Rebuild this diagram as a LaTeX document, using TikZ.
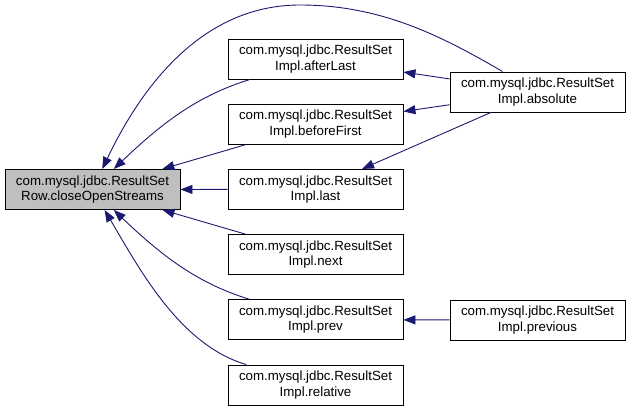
\documentclass[tikz,border=0pt]{standalone}
\usepackage{fontspec}
\setmainfont{Liberation Sans}
\usetikzlibrary{positioning,arrows.meta}
\definecolor{edgeblue}{HTML}{191970}
\definecolor{boxgray}{HTML}{BFBFBF}
\begin{document}
\begin{tikzpicture}[x=1pt, y=-1pt, node distance=65.2pt, >={Triangle[length=12pt,width=9pt]}]
  \tikzstyle{funcbox} = [rectangle, draw=black, line width=0.9pt, align=center, minimum width=175pt, minimum height=40pt, inner sep=0pt, font=\fontsize{13.3}{15.5}\selectfont]
  \tikzstyle{call} = [edgeblue, line width=0.9pt]

  \useasboundingbox (0,0) rectangle (631,411);

  \node[funcbox, fill=boxgray] (close) at (92.5,189.5) {com.mysql.jdbc.ResultSet\\Row.closeOpenStreams};

  \node[funcbox] (afterLast) at (315.5,59) {com.mysql.jdbc.ResultSet\\Impl.afterLast};
  \node[funcbox, below of=afterLast] (beforeFirst) {com.mysql.jdbc.ResultSet\\Impl.beforeFirst};
  \node[funcbox, below of=beforeFirst] (last) {com.mysql.jdbc.ResultSet\\Impl.last};
  \node[funcbox, below of=last] (next) {com.mysql.jdbc.ResultSet\\Impl.next};
  \node[funcbox, below of=next] (prev) {com.mysql.jdbc.ResultSet\\Impl.prev};
  \node[funcbox, below of=prev] (relative) {com.mysql.jdbc.ResultSet\\Impl.relative};

  \node[funcbox] (absolute) at (537.5,92) {com.mysql.jdbc.ResultSet\\Impl.absolute};
  \node[funcbox] (previous) at (537.5,320) {com.mysql.jdbc.ResultSet\\Impl.previous};

  % callers of closeOpenStreams
  \draw[call, ->] (absolute) .. controls (440,35) and (380,5) .. (300,5) .. controls (200,5) and (140,90) .. (close);
  \draw[call, ->] (afterLast) .. controls (200,95) and (165,120) .. (close);
  \draw[call, ->] (beforeFirst) -- (close);
  \draw[call, ->] (last) -- (close);
  \draw[call, ->] (next) -- (close);
  \draw[call, ->] (prev) .. controls (200,284) and (165,259) .. (close);
  \draw[call, ->] (relative) .. controls (180,345) and (140,270) .. (close);

  % right column
  \draw[call, ->] (absolute) -- (afterLast);
  \draw[call, ->] (absolute) -- (beforeFirst);
  \draw[call, ->] (absolute) -- (last);
  \draw[call, ->] (previous) -- (prev);
\end{tikzpicture}
\end{document}
